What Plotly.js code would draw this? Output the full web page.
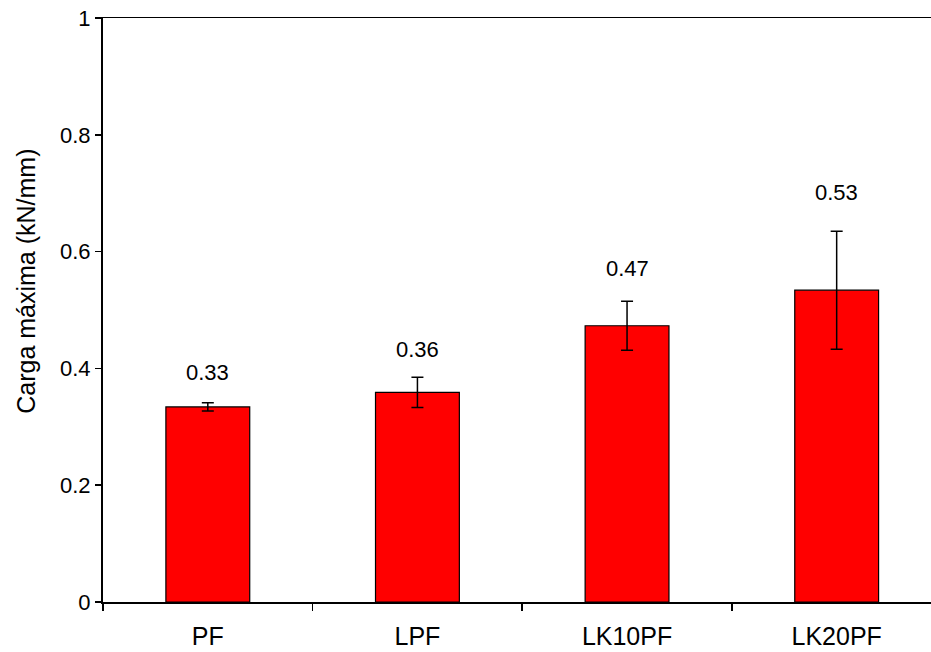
<!DOCTYPE html>
<html>
<head>
<meta charset="utf-8">
<script src="https://cdn.plot.ly/plotly-3.0.1.min.js"></script>
<style>html,body{margin:0;padding:0;background:#fff;}#chart{width:931px;height:652px;}</style>
</head>
<body>
<div id="chart"></div>
<script>
var categories = ["PF", "LPF", "LK10PF", "LK20PF"];
var values = [0.334, 0.359, 0.473, 0.534];
var errors = [0.007, 0.026, 0.042, 0.101];
var yTickVals = [0, 0.2, 0.4, 0.6, 0.8, 1];
var yTickText = ["0", "0.2", "0.4", "0.6", "0.8", "1"];
var yTitle = "Carga máxima (kN/mm)";

// pixel offsets of value labels above error-bar tops (style only)
var labelShift = [30, 28, 33, 39];

var FONT = "Liberation Sans, Arial, sans-serif";

var trace = {
  type: "bar",
  x: categories,
  y: values,
  marker: {color: "#ff0000", line: {color: "#000000", width: 1.2}},
  error_y: {type: "data", array: errors, visible: true, color: "#000000", thickness: 1.5, width: 6},
  hoverinfo: "none"
};

var annotations = categories.map(function (c, i) {
  return {
    x: c, y: values[i] + errors[i], xref: "x", yref: "y",
    text: values[i].toFixed(2), showarrow: false,
    yanchor: "middle", yshift: labelShift[i],
    font: {family: FONT, size: 22, color: "#000"}
  };
});
annotations.push({
  xref: "paper", yref: "paper", x: -0.093, y: 0.55,
  xanchor: "center", yanchor: "middle", textangle: -90,
  text: yTitle, showarrow: false,
  font: {family: FONT, size: 25, color: "#000"}
});

var layout = {
  width: 931, height: 652,
  margin: {l: 103, r: 0, t: 18, b: 50},
  paper_bgcolor: "#ffffff", plot_bgcolor: "#ffffff",
  showlegend: false,
  bargap: 0.6,
  font: {family: FONT, color: "#000"},
  xaxis: {
    type: "category",
    range: [-0.5, 3.45],
    tickson: "boundaries",
    ticks: "outside", ticklen: 7, tickwidth: 1.5, tickcolor: "#000",
    showline: true, linecolor: "#000", linewidth: 1.5, mirror: true,
    showgrid: false, zeroline: false,
    ticklabelstandoff: 11,
    tickfont: {size: 25, color: "#000"},
    fixedrange: true
  },
  yaxis: {
    range: [0, 1],
    tickvals: yTickVals, ticktext: yTickText,
    ticks: "outside", ticklen: 6, tickwidth: 1.5, tickcolor: "#000",
    showline: true, linecolor: "#000", linewidth: 2,
    showgrid: false, zeroline: false,
    tickfont: {size: 22, color: "#000"},
    fixedrange: true
  },
  annotations: annotations
};

Plotly.newPlot("chart", [trace], layout, {staticPlot: true, displayModeBar: false});
</script>
</body>
</html>
